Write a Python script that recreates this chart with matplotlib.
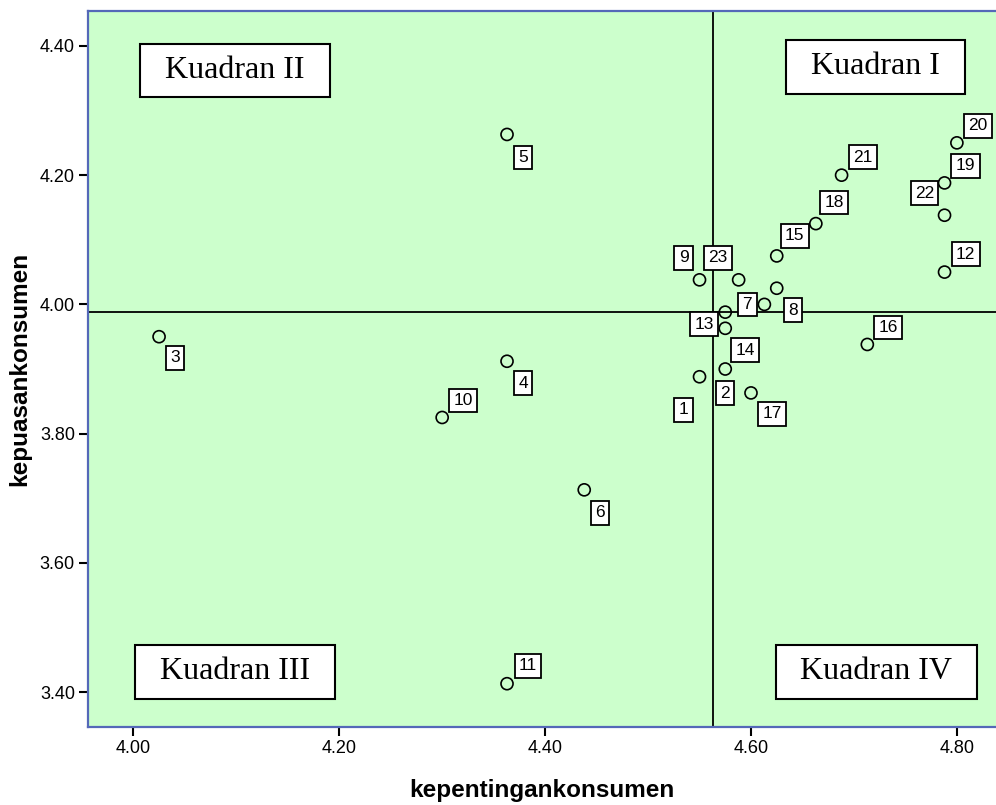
import matplotlib
matplotlib.use("Agg")
import matplotlib.pyplot as plt

# item numbers and mean scores (importance vs satisfaction)
items = list(range(1, 24))
kepentingan = [4.550, 4.575, 4.025, 4.363, 4.363, 4.438, 4.613, 4.625, 4.550, 4.300,
               4.363, 4.788, 4.575, 4.575, 4.625, 4.713, 4.600, 4.663, 4.788, 4.800,
               4.688, 4.788, 4.588]
kepuasan = [3.888, 3.900, 3.950, 3.912, 4.263, 3.713, 4.000, 4.025, 4.038, 3.825,
            3.413, 4.050, 3.988, 3.963, 4.075, 3.938, 3.863, 4.125, 4.188, 4.250,
            4.200, 4.138, 4.038]
mean_x = 4.563
mean_y = 3.988

xticks = [4.00, 4.20, 4.40, 4.60, 4.80]
yticks = [3.40, 3.60, 3.80, 4.00, 4.20, 4.40]
quadrants = ["Kuadran I", "Kuadran II", "Kuadran III", "Kuadran IV"]

# label box offsets in pixels (dx right, dy down)
label_off = [(-16, 33), (0, 24), (16, 21), (16, 22), (16, 23), (16, 23), (-17, 0),
             (16, 22), (-16, -22), (21, -17), (21, -18), (21, -18), (-21, 12),
             (20, 22), (18, -20), (21, -17), (21, 21), (18, -21), (21, -17),
             (21, -17), (21, -18), (-20, -22), (-21, -22)]
quad_pos = [(0.867, 0.922), (0.162, 0.917), (0.162, 0.077), (0.868, 0.077)]

fig = plt.figure(figsize=(9.96, 8.05), dpi=100)
ax = fig.add_axes([0.0884, 0.0969, 0.9116, 0.8894])
ax.set_facecolor("#ccffcc")

ax.axvline(mean_x, color="black", lw=1.3, zorder=1)
ax.axhline(mean_y, color="black", lw=1.3, zorder=1)

ax.scatter(kepentingan, kepuasan, s=75, facecolors="none", edgecolors="black",
           linewidths=1.2, zorder=3)

for n, x, y, (dx, dy) in zip(items, kepentingan, kepuasan, label_off):
    ax.annotate(str(n), xy=(x, y), xytext=(dx, -dy), textcoords="offset pixels",
                ha="center", va="center", fontsize=12.5, family="Liberation Sans",
                bbox=dict(boxstyle="square,pad=0.25", fc="white", ec="black", lw=1.3),
                zorder=4)

for name, (px, py) in zip(quadrants, quad_pos):
    ax.text(px, py, " " + name + " ", transform=ax.transAxes, ha="center", va="center",
            fontsize=23, family="Liberation Serif",
            bbox=dict(boxstyle="square,pad=0.53", mutation_aspect=0.72,
                      fc="white", ec="black", lw=1.5),
            zorder=5)

ax.set_xlim(3.956, 4.838)
ax.set_ylim(3.346, 4.454)
ax.set_xticks(xticks)
ax.set_yticks(yticks)
ax.set_xticklabels(["%.2f" % v for v in xticks])
ax.set_yticklabels(["%.2f" % v for v in yticks])
ax.tick_params(length=6.5, width=1.5, labelsize=13, pad=3, color="black")
for lab in ax.get_xticklabels() + ax.get_yticklabels():
    lab.set_family("Liberation Sans")

for side in ["left", "top", "bottom"]:
    ax.spines[side].set_color("#5468b8")
    ax.spines[side].set_linewidth(1.6)
ax.spines["right"].set_visible(False)

ax.set_xlabel("kepentingankonsumen", fontsize=17.5, fontweight="bold",
              family="Liberation Sans", labelpad=16)
ax.set_ylabel("kepuasankonsumen", fontsize=17.5, fontweight="bold",
              family="Liberation Sans", labelpad=6)

fig.savefig("out.png", dpi=100)
